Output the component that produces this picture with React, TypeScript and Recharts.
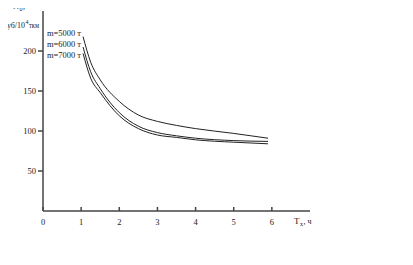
import { LineChart, Line, XAxis, YAxis } from "recharts";

// Удельные затраты N0 (руб/10^4 ткм) от времени Tx (ч) при разной массе поезда
const hours = [1.05, 1.25, 1.5, 2, 2.5, 3, 3.5, 4, 5, 5.9];
const m5000 = [218, 186, 164, 137, 120, 112, 107, 103, 97, 91];
const m6000 = [205, 174, 153, 123, 106, 98, 94, 91, 88, 87];
const m7000 = [197, 166, 148, 119, 103, 95, 92, 89, 86, 84];

const xTicks = [0, 1, 2, 3, 4, 5, 6];
const yTicks = [50, 100, 150, 200];
const seriesLabels = ["m=5000 т", "m=6000 т", "m=7000 т"];

const FONT = "'Liberation Serif', 'Times New Roman', serif";
const AXIS = "#444";
const INK = "#222";
const FS = 8.5;
const SMALL = 6;

const data = hours.map((h, i) => ({
  h,
  a: m5000[i],
  b: m6000[i],
  c: m7000[i],
}));

function XTick({ x, y, payload }: { x?: number; y?: number; payload?: { value: number } }) {
  return (
    <g>
      <line x1={x} y1={y} x2={x} y2={(y ?? 0) - 4} stroke={AXIS} strokeWidth={1.5} />
      <text x={x} y={(y ?? 0) + 14} textAnchor="middle" fontSize={FS} fontFamily={FONT} fill={INK}>
        {payload?.value}
      </text>
    </g>
  );
}

// кусок подписи с заданной шириной, чтобы не зависеть от метрики шрифта
function Txt({ x, y, w, size = FS, children }: { x: number; y: number; w: number; size?: number; children: string }) {
  return (
    <text
      x={x}
      y={y}
      fontSize={size}
      fontFamily={FONT}
      fill={INK}
      textLength={w}
      lengthAdjust="spacingAndGlyphs"
    >
      {children}
    </text>
  );
}

export default function App() {
  return (
    <div style={{ position: "relative", width: 413, height: 265, margin: "-8px 0 0 -8px" }}>
      <LineChart
        width={413}
        height={265}
        data={data}
        margin={{ top: 11, right: 103, left: 13, bottom: 34 }}
      >
        <XAxis
          dataKey="h"
          type="number"
          domain={[0, 7]}
          ticks={xTicks}
          tickSize={0}
          tickMargin={0}
          height={20}
          tick={<XTick />}
          axisLine={{ stroke: AXIS, strokeWidth: 1.5 }}
        />
        <YAxis
          type="number"
          domain={[0, 250]}
          ticks={yTicks}
          width={30}
          tickSize={5}
          tick={{ fontSize: FS, fill: INK, fontFamily: FONT }}
          tickLine={{ stroke: AXIS, strokeWidth: 1.5 }}
          axisLine={{ stroke: AXIS, strokeWidth: 1.5 }}
        />
        <Line type="monotone" dataKey="a" stroke={INK} strokeWidth={1} dot={false} isAnimationActive={false} />
        <Line type="monotone" dataKey="b" stroke={INK} strokeWidth={1} dot={false} isAnimationActive={false} />
        <Line type="monotone" dataKey="c" stroke={INK} strokeWidth={1} dot={false} isAnimationActive={false} />
      </LineChart>

      {/* подписи осей и кривых */}
      <svg
        width={413}
        height={265}
        style={{ position: "absolute", left: 0, top: 0, pointerEvents: "none" }}
      >
        <Txt x={13} y={9} w={6}>N</Txt>
        <Txt x={19.5} y={11} w={3} size={SMALL}>0</Txt>
        <Txt x={23} y={9} w={2}>,</Txt>

        <Txt x={3} y={28} w={22}>руб/10</Txt>
        <Txt x={25.5} y={24} w={3} size={SMALL}>4</Txt>
        <Txt x={29} y={28} w={10}>ткм</Txt>

        {seriesLabels.map((s, i) => (
          <Txt key={s} x={47} y={36 + i * 10.8} w={34}>
            {s}
          </Txt>
        ))}

        <Txt x={294} y={224} w={5.5}>T</Txt>
        <Txt x={300} y={226} w={3} size={SMALL}>x</Txt>
        <Txt x={303.5} y={224} w={8}>, ч</Txt>
      </svg>
    </div>
  );
}
